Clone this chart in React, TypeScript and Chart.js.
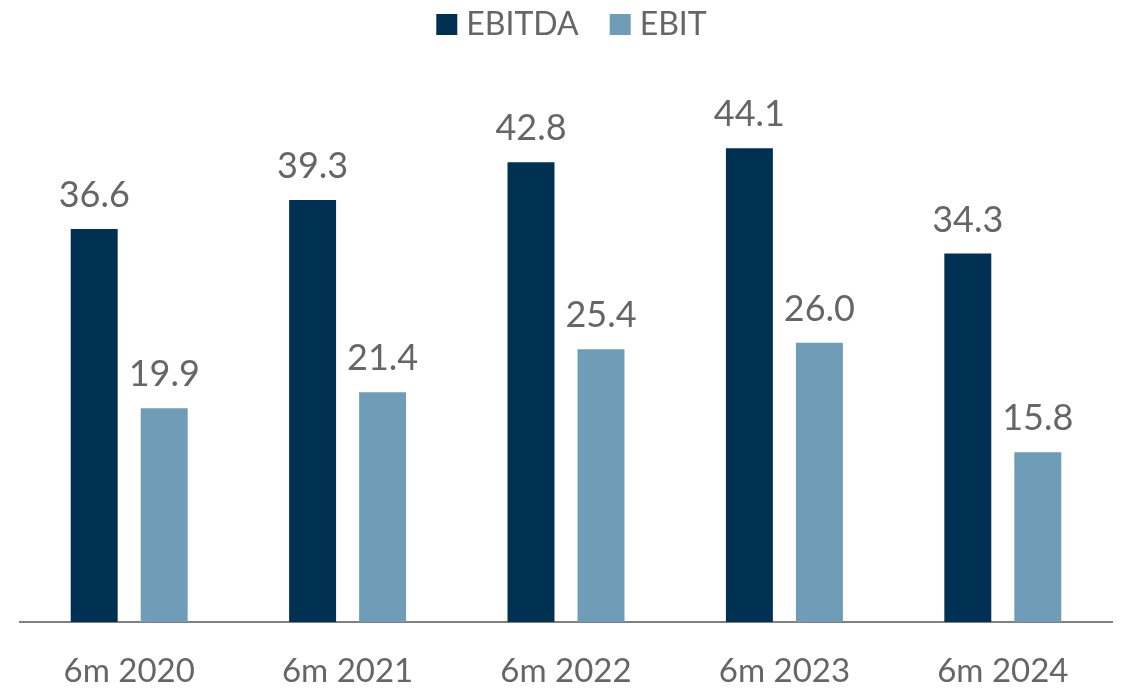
import React, { useEffect, useRef } from "react";
import { Chart, registerables } from "chart.js";

Chart.register(...registerables);

const categories = ["6m 2020", "6m 2021", "6m 2022", "6m 2023", "6m 2024"];
const ebitda = [36.6, 39.3, 42.8, 44.1, 34.3];
const ebit = [19.9, 21.4, 25.4, 26.0, 15.8];

const NAVY = "#003153";
const LIGHT = "#6f9cb6";
const TEXT = "#666666";
const FONT = "Lato";

const dataLabels = {
  id: "dataLabels",
  afterDatasetsDraw(chart: any) {
    const ctx = chart.ctx;
    ctx.save();
    ctx.font = `36px ${FONT}`;
    ctx.fillStyle = TEXT;
    ctx.textAlign = "center";
    ctx.textBaseline = "alphabetic";
    chart.data.datasets.forEach((ds: any, di: number) => {
      const meta = chart.getDatasetMeta(di);
      meta.data.forEach((el: any, i: number) => {
        ctx.fillText(Number(ds.data[i]).toFixed(1), el.x, el.y - 22);
      });
    });
    ctx.restore();
  },
};

const customLegend = {
  id: "customLegend",
  afterDraw(chart: any) {
    const ctx = chart.ctx;
    ctx.save();
    ctx.font = `32px ${FONT}`;
    ctx.textBaseline = "alphabetic";
    ctx.textAlign = "left";
    const box = 21;
    const gap = 9;
    const itemGap = 31;
    const items = chart.data.datasets.map((ds: any) => ({
      label: ds.label,
      color: ds.backgroundColor,
      w: ctx.measureText(ds.label).width,
    }));
    const total =
      items.reduce((s: number, it: any) => s + box + gap + it.w, 0) +
      itemGap * (items.length - 1);
    let x = 571.5 - total / 2;
    items.forEach((it: any) => {
      ctx.fillStyle = it.color;
      ctx.fillRect(x, 14, box, box);
      ctx.fillStyle = TEXT;
      ctx.fillText(it.label, x + box + gap, 35);
      x += box + gap + it.w + itemGap;
    });
    ctx.restore();
  },
};

export default function App() {
  const ref = useRef<HTMLCanvasElement | null>(null);
  useEffect(() => {
    if (!ref.current) return;
    const chart = new Chart(ref.current, {
      type: "bar",
      data: {
        labels: categories,
        datasets: [
          { label: "EBITDA", data: ebitda, backgroundColor: NAVY },
          { label: "EBIT", data: ebit, backgroundColor: LIGHT },
        ],
      },
      options: {
        responsive: false,
        animation: false,
        layout: { padding: { left: 20, right: 10, top: 85, bottom: 0 } },
        datasets: {
          bar: { categoryPercentage: 0.641, barPercentage: 0.671 },
        },
        plugins: {
          legend: { display: false },
          tooltip: { enabled: false },
        },
        scales: {
          y: { display: false, min: 0, max: 50 },
          x: {
            grid: { display: false, drawTicks: false },
            border: { display: true, color: "#808080", width: 2 },
            ticks: {
              color: TEXT,
              font: { family: FONT, size: 33 },
              padding: 30,
              maxRotation: 0,
            },
            afterFit(scale: any) {
              scale.height = 66;
            },
          },
        },
      },
      plugins: [dataLabels, customLegend],
    });
    return () => chart.destroy();
  }, []);
  return (
    <div style={{ position: "absolute", left: 0, top: 0, width: 1122, height: 688 }}>
      <canvas ref={ref} width={1122} height={688} />
    </div>
  );
}
